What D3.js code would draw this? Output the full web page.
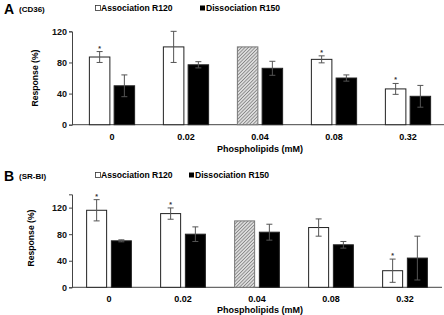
<!DOCTYPE html>
<html>
<head>
<meta charset="utf-8">
<script src="https://cdn.jsdelivr.net/npm/d3@7"></script>
<style>
body { margin: 0; background: #fff; }
text { font-family: "Liberation Sans", Arial, sans-serif; font-weight: bold; }
</style>
</head>
<body>
<script>
var doses = ["0", "0.02", "0.04", "0.08", "0.32"];
var series = ["Association R120", "Dissociation R150"];
var yTicks = [0, 40, 80, 120];

// CD36 panel
var cd36Assoc = [87, 100, 100, 84, 46];
var cd36AssocErr = [7, 20, 0, 4.5, 7];
var cd36Dissoc = [50, 77, 72.5, 60, 36.5];
var cd36DissocErr = [14, 4, 9, 4, 14];
var cd36Star = [1, 0, 0, 1, 1];

// SR-BI panel
var srbiAssoc = [116, 111, 100, 90, 25];
var srbiAssocErr = [16, 8.5, 0, 13, 17.5];
var srbiDissoc = [70, 80, 83, 64, 44];
var srbiDissocErr = [1.5, 11, 12, 5, 33];
var srbiStar = [1, 1, 0, 0, 1];

var refDose = "0.04";

var w = 444, h = 315;

var svg = d3.select("body").append("svg")
	.attr("width", w)
	.attr("height", h);

var defs = svg.append("defs");
var pat = defs.append("pattern")
	.attr("id", "hatch")
	.attr("patternUnits", "userSpaceOnUse")
	.attr("width", 2.4)
	.attr("height", 2.4)
	.attr("patternTransform", "rotate(45)");
pat.append("rect").attr("width", 2.4).attr("height", 2.4).attr("fill", "#dcdcdc");
pat.append("line").attr("x1", 0).attr("y1", 0).attr("x2", 0).attr("y2", 2.4)
	.attr("stroke", "#666").attr("stroke-width", 1.2);

function panel(o){

var g = svg.append("g");

var x0 = d3.scaleBand()
	.domain(doses)
	.range([o.left, o.left + 370]);

var x1 = d3.scaleBand()
	.domain(series)
	.range([0, x0.bandwidth()])
	.paddingInner(0.17)
	.paddingOuter(0.58);

var yScale = d3.scaleLinear()
	.domain([0, o.max])
	.range([o.zero, o.zero - o.max * o.k]);

// title
g.append("text").attr("x", 4).attr("y", o.top + 1).attr("font-size", "14px").text(o.letter);
g.append("text").attr("x", 19).attr("y", o.top - 1).attr("font-size", "8px").text(o.name);

// legend
g.append("rect").attr("x", 95.5).attr("y", o.top - 7.5).attr("width", 5).attr("height", 5)
	.attr("fill", "#fff").attr("stroke", "#333").attr("stroke-width", 0.8);
g.append("text").attr("x", 101).attr("y", o.top - 2).attr("font-size", "8.6px").text(series[0]);
g.append("rect").attr("x", o.leg2).attr("y", o.top - 7.5).attr("width", 5).attr("height", 5)
	.attr("fill", "#000");
g.append("text").attr("x", o.leg2 + 6).attr("y", o.top - 2).attr("font-size", "8.6px").text(series[1]);

// y axis
var yAxis = d3.axisLeft(yScale).tickValues(yTicks).tickSize(3).tickPadding(2);
var ay = g.append("g").attr("transform", "translate(72,0)").call(yAxis);
ay.selectAll("text").attr("font-size", "9px").attr("fill", "#111");
ay.selectAll("line,path").attr("stroke", "#444");

// x axis line
g.append("line")
	.attr("x1", 72).attr("x2", o.axisEnd)
	.attr("y1", yScale(0)).attr("y2", yScale(0))
	.attr("stroke", "#444");

g.selectAll(".xlab")
	.data(doses)
	.enter()
	.append("text")
	.attr("x", function(d){ return x0(d) + x0.bandwidth() / 2; })
	.attr("y", yScale(0) + 15)
	.attr("text-anchor", "middle")
	.attr("font-size", "9px")
	.text(function(d){ return d; });

g.append("text")
	.attr("x", 260).attr("y", yScale(0) + o.titleOff)
	.attr("text-anchor", "middle")
	.attr("font-size", "9px")
	.text("Phospholipids  (mM)");

g.append("text")
	.attr("transform", "translate(" + o.ylabX + "," + o.ylabY + ") rotate(-90)")
	.attr("text-anchor", "middle")
	.attr("font-size", "8.6px")
	.text("Response  (%)");

var rows = doses.map(function(d, i){
	return [
		{dose: d, s: series[0], v: o.assoc[i], e: o.assocErr[i], star: o.star[i]},
		{dose: d, s: series[1], v: o.dissoc[i], e: o.dissocErr[i], star: 0}
	];
});
var bars = [].concat.apply([], rows);

var bw = o.bw;
function bx(d){ return x0(d.dose) + x1(d.s) + (x1.bandwidth() - bw) / 2; }

g.selectAll(".bar")
	.data(bars)
	.enter()
	.append("rect")
	.attr("x", bx)
	.attr("y", function(d){ return yScale(d.v); })
	.attr("width", bw)
	.attr("height", function(d){ return yScale(0) - yScale(d.v); })
	.attr("fill", function(d){
		if (d.s == series[1]) return "#000";
		return d.dose == refDose ? "url(#hatch)" : "#fff";
	})
	.attr("stroke", function(d){ return d.dose == refDose && d.s == series[0] ? "#777" : "#222"; })
	.attr("stroke-width", 1);

var errs = g.selectAll(".err")
	.data(bars.filter(function(d){ return d.e > 0; }))
	.enter()
	.append("g")
	.attr("stroke", "#555")
	.attr("stroke-width", 1);

function cx(d){ return bx(d) + bw / 2; }

errs.append("line")
	.attr("x1", cx).attr("x2", cx)
	.attr("y1", function(d){ return yScale(d.v + d.e); })
	.attr("y2", function(d){ return yScale(d.v - d.e); });
errs.append("line")
	.attr("x1", function(d){ return cx(d) - 3; }).attr("x2", function(d){ return cx(d) + 3; })
	.attr("y1", function(d){ return yScale(d.v + d.e); })
	.attr("y2", function(d){ return yScale(d.v + d.e); });
errs.append("line")
	.attr("x1", function(d){ return cx(d) - 3; }).attr("x2", function(d){ return cx(d) + 3; })
	.attr("y1", function(d){ return yScale(d.v - d.e); })
	.attr("y2", function(d){ return yScale(d.v - d.e); });

g.selectAll(".star")
	.data(bars.filter(function(d){ return d.star; }))
	.enter()
	.append("text")
	.attr("x", cx)
	.attr("y", function(d){ return yScale(d.v + d.e) - 1; })
	.attr("text-anchor", "middle")
	.attr("font-size", "7px")
	.attr("fill", "#333")
	.text("*");
}

panel({letter: "A", name: "(CD36)", top: 13, leg2: 200, left: 75, axisEnd: 444,
	zero: 124.7, k: 0.778, max: 120, bw: 20.5, titleOff: 27, ylabX: 38, ylabY: 78,
	assoc: cd36Assoc, assocErr: cd36AssocErr, dissoc: cd36Dissoc, dissocErr: cd36DissocErr, star: cd36Star});

panel({letter: "B", name: "(SR-BI)", top: 180, leg2: 189, left: 72, axisEnd: 442,
	zero: 287.3, k: 0.664, max: 140, bw: 20, titleOff: 25.3, ylabX: 34, ylabY: 238,
	assoc: srbiAssoc, assocErr: srbiAssocErr, dissoc: srbiDissoc, dissocErr: srbiDissocErr, star: srbiStar});
</script>
</body>
</html>
